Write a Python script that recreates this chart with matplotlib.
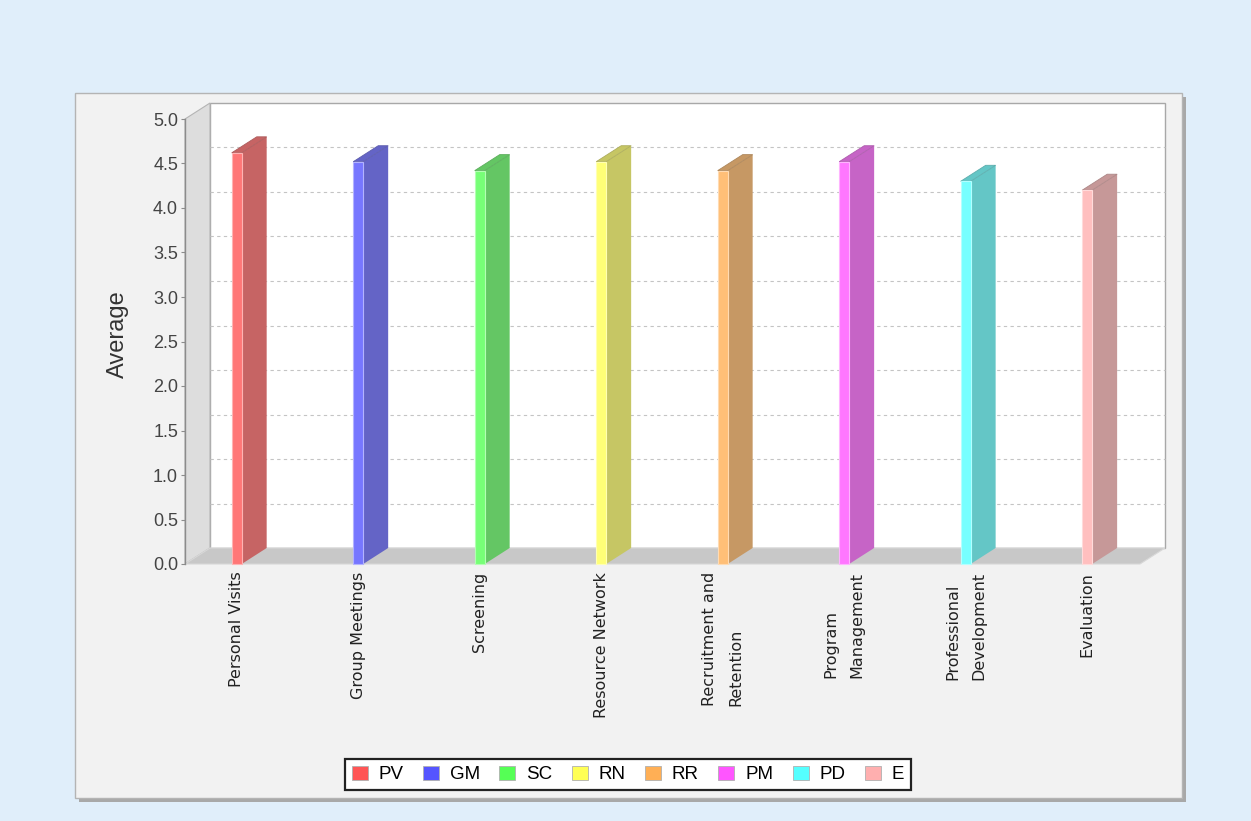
import matplotlib
matplotlib.use("Agg")
import matplotlib.pyplot as plt
from matplotlib.patches import Polygon, Rectangle, Patch
from matplotlib.colors import to_rgb

# ---- data -------------------------------------------------------------
categories = ["Personal Visits", "Group Meetings", "Screening", "Resource Network",
              "Recruitment and\nRetention", "Program\nManagement",
              "Professional\nDevelopment", "Evaluation"]
series_codes = ["PV", "GM", "SC", "RN", "RR", "PM", "PD", "E"]
averages = [4.62, 4.52, 4.42, 4.52, 4.42, 4.52, 4.30, 4.20]
series_colors = ["#FF5555", "#5555FF", "#55FF55", "#FFFF55",
                 "#FFAF55", "#FF55FF", "#55FFFF", "#FFAFAF"]
y_ticks = [0.0, 0.5, 1.0, 1.5, 2.0, 2.5, 3.0, 3.5, 4.0, 4.5, 5.0]
y_label = "Average"

# ---- geometry (pixels) ------------------------------------------------
W, H = 1251, 821
DPI = 100
PLOT_L, PLOT_R, PLOT_B, PLOT_T = 185, 1140, 564, 119
DEPTH_X, DEPTH_Y = 25, 16          # 3-D depth offset of the back wall
X_MIN, X_MAX = -0.4255, 7.435
Y_MAX = 5.0
BAR_W = 0.082
ALPHA = 0.8


def blend(color, alpha=ALPHA, factor=1.0):
    r, g, b = to_rgb(color)
    return tuple(alpha * c * factor + (1 - alpha) for c in (r, g, b))


fig = plt.figure(figsize=(W / DPI, H / DPI), dpi=DPI, facecolor="#E0EEFA")

# chart panel with drop shadow
fig.patches.append(Rectangle(((75 + 4) / W, 1 - (798 + 4) / H), (1182 - 75) / W,
                             (798 - 93) / H, transform=fig.transFigure,
                             facecolor="#A8A8A8", edgecolor="none", zorder=-3))
fig.patches.append(Rectangle((75 / W, 1 - 798 / H), (1182 - 75) / W, (798 - 93) / H,
                             transform=fig.transFigure, facecolor="#F2F2F2",
                             edgecolor="#B4B4B4", linewidth=1, zorder=-2))

ax = fig.add_axes([PLOT_L / W, 1 - PLOT_B / H, (PLOT_R - PLOT_L) / W,
                   (PLOT_B - PLOT_T) / H])
ax.set_zorder(1)
ax.set_xlim(X_MIN, X_MAX)
ax.set_ylim(0, Y_MAX)
ax.patch.set_visible(False)
for side in ("top", "right", "bottom"):
    ax.spines[side].set_visible(False)
ax.spines["left"].set_color("#8C8C8C")
ax.spines["left"].set_linewidth(1.0)
ax.spines["left"].set_zorder(3)

# depth offset in data units
dx = DEPTH_X * (X_MAX - X_MIN) / (PLOT_R - PLOT_L)
dy = DEPTH_Y * Y_MAX / (PLOT_B - PLOT_T)


def face(points, fc, ec="none", lw=0.0, z=1):
    ax.add_patch(Polygon(points, closed=True, facecolor=fc, edgecolor=ec,
                         linewidth=lw, clip_on=False, zorder=z))


# walls
face([(X_MIN + dx, dy), (X_MAX + dx, dy), (X_MAX + dx, Y_MAX + dy),
      (X_MIN + dx, Y_MAX + dy)], "white", "#A8A8A8", 1.0, z=1)
face([(X_MIN, 0), (X_MIN + dx, dy), (X_MIN + dx, Y_MAX + dy), (X_MIN, Y_MAX)],
     "#DDDDDD", "#B4B4B4", 0.8, z=1.1)
face([(X_MIN, 0), (X_MAX, 0), (X_MAX + dx, dy), (X_MIN + dx, dy)],
     "#C8C8C8", "#D8D8D8", 0.8, z=1.1)

# dashed gridlines on the back wall
for t in y_ticks[1:-1]:
    ax.plot([X_MIN + dx, X_MAX + dx], [t + dy, t + dy], color="#C4C4C4",
            linewidth=0.8, linestyle=(0, (3, 3)), clip_on=False, zorder=1.2)

# 3-D bars
for i, (v, c) in enumerate(zip(averages, series_colors)):
    front = blend(c)
    dark = blend(c, factor=0.72)
    xl, xr = i - BAR_W / 2, i + BAR_W / 2
    face([(xr, 0), (xr + dx, dy), (xr + dx, v + dy), (xr, v)], dark, z=2)
    face([(xl, v), (xr, v), (xr + dx, v + dy), (xl + dx, v + dy)], dark,
         blend(c, factor=0.6), 0.6, z=2.1)
    ax.bar(i, v, width=BAR_W, color=front, edgecolor=blend(c, alpha=0.45),
           linewidth=0.8, zorder=2.2, clip_on=False)

# axes ticks and labels
ax.set_yticks(y_ticks)
ax.set_yticklabels([f"{t:.1f}" for t in y_ticks], family="Liberation Sans",
                   fontsize=13, color="#444444")
ax.tick_params(axis="y", length=3, width=0.8, color="#8C8C8C", pad=2)

ax.set_xticks(range(len(categories)))
ax.set_xticklabels(categories, rotation=90, family="DejaVu Sans", fontsize=11.5,
                   color="#222222", va="top", ha="center", linespacing=1.95)
for lbl in ax.get_xticklabels():
    lbl.set_multialignment("left")
ax.tick_params(axis="x", length=0, pad=5.5)

fig.text(118 / W, 1 - 334 / H, y_label, rotation=90, ha="center", va="center",
         family="Liberation Sans", fontsize=17, color="#333333")

# legend
handles = [Patch(facecolor=c, edgecolor="#B0B0B0", linewidth=0.6)
           for c in series_colors]
leg = fig.legend(handles, series_codes, loc="center", ncol=len(series_codes),
                 bbox_to_anchor=(628 / W, 1 - 774.5 / H), frameon=True,
                 fancybox=False, framealpha=1, facecolor="white",
                 edgecolor="#222222", handlelength=0.85, handleheight=0.85,
                 handletextpad=0.58, columnspacing=1.04, borderpad=0.35,
                 prop={"family": "Liberation Sans", "size": 13.5})
leg.get_frame().set_linewidth(1.6)

fig.savefig("out.png", dpi=DPI, facecolor=fig.get_facecolor())
